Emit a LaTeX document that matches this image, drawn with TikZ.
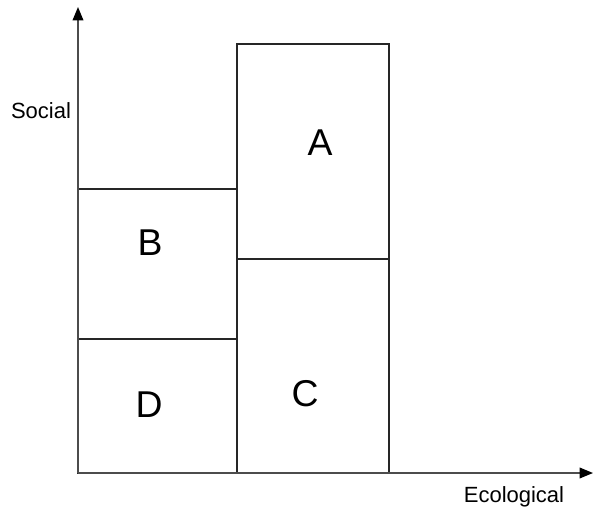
\documentclass[tikz,border=0pt]{standalone}
\usepackage{fontspec}
\setmainfont{Liberation Sans}
\usetikzlibrary{arrows.meta}
\begin{document}
\begin{tikzpicture}[x=0.75pt, y=-0.75pt,
  box/.style={draw=black!85, line width=1.1pt},
  axis/.style={draw=black!70, line width=1pt, -{Triangle[length=10pt, width=8pt, color=black]}},
  letter/.style={font=\fontsize{28}{30}\selectfont},
  axislabel/.style={font=\fontsize{16.5}{18}\selectfont}]
  \useasboundingbox (0,0) rectangle (594,511);
  % Boxes
  \draw[box] (78,189) rectangle (237,339);
  \draw[box] (78,339) rectangle (237,473);
  \draw[box] (237,44) rectangle (389,259);
  \draw[box] (237,259) rectangle (389,473);
  % Axes
  \coordinate (origin) at (78,473);
  \coordinate (ytip) at (78,7);
  \coordinate (xtip) at (593,473);
  \draw[axis] (origin) -- (ytip);
  \draw[axis] (origin) -- (xtip);
  \node[axislabel] (social) at (41,111) {Social};
  \node[axislabel] (ecological) at (514,497) {Ecological};
  % Letters
  \node[letter] (A) at (320,143) {A};
  \node[letter] (B) at (150,243) {B};
  \node[letter] (C) at (305,394) {C};
  \node[letter] (D) at (149,405) {D};
\end{tikzpicture}
\end{document}
